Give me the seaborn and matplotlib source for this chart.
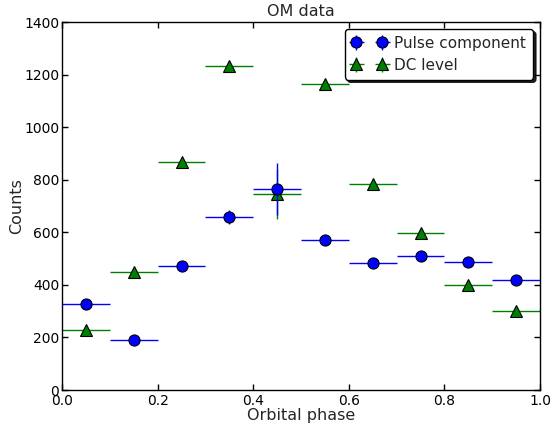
import numpy as np
import pandas as pd
import matplotlib
matplotlib.use("Agg")
import matplotlib.pyplot as plt
import seaborn as sns

phase = [0.05, 0.15, 0.25, 0.35, 0.45, 0.55, 0.65, 0.75, 0.85, 0.95]
phase_err = [0.05] * 10
pulse = [327, 192, 472, 658, 765, 570, 483, 510, 487, 418]
pulse_err = [12, 12, 14, 25, 100, 14, 14, 14, 14, 14]
dc = [228, 449, 867, 1232, 745, 1164, 784, 597, 400, 300]
dc_err = [12, 12, 14, 14, 95, 14, 14, 14, 14, 14]

sns.set_theme(style="white")
plt.rcParams.update({
    "font.family": ["DejaVu Sans"],
    "xtick.direction": "in", "ytick.direction": "in",
    "xtick.top": True, "ytick.right": True,
    "xtick.bottom": True, "ytick.left": True,
    "xtick.major.size": 4, "ytick.major.size": 4,
    "xtick.major.width": 1, "ytick.major.width": 1,
    "xtick.major.pad": 3, "ytick.major.pad": 2,
    "axes.edgecolor": "black", "axes.linewidth": 1,
    "xtick.color": "black", "ytick.color": "black",
    "xtick.labelsize": 10, "ytick.labelsize": 10,
})

df = pd.DataFrame({"phase": phase, "pulse": pulse, "dc": dc})

fig = plt.figure(figsize=(5.52, 4.25), dpi=100)
ax = fig.add_axes([62/552, 35/425, 478/552, 368/425])

ax.errorbar(df["phase"], df["pulse"], xerr=phase_err, yerr=pulse_err, fmt="o",
            color="blue", mec="black", mew=0.8, ms=8, elinewidth=1,
            label="Pulse component", zorder=3)
ax.errorbar(df["phase"], df["dc"], xerr=phase_err, yerr=dc_err, fmt="^",
            color="green", mfc="green", mec="black", mew=0.8, ms=8, elinewidth=1,
            label="DC level", zorder=2)

ax.set_xlim(0, 1)
ax.set_ylim(0, 1400)
ax.set_xticks([0.0, 0.2, 0.4, 0.6, 0.8, 1.0])
ax.set_yticks(range(0, 1401, 200))
ax.set_xlabel("Orbital phase", fontsize=11.5, labelpad=0)
ax.set_ylabel("Counts", fontsize=11.5, labelpad=0)
ax.set_title("OM data", fontsize=11.5, pad=4)
leg = ax.legend(loc="upper right", numpoints=2, fancybox=True,
                shadow={"color": "black", "alpha": 0.85, "ox": 2, "oy": -2},
                fontsize=11, framealpha=1, edgecolor="black",
                handlelength=2.3, handletextpad=0.5, borderaxespad=0.45,
                borderpad=0.45, labelspacing=0.45)

fig.savefig("out.png", dpi=100)
